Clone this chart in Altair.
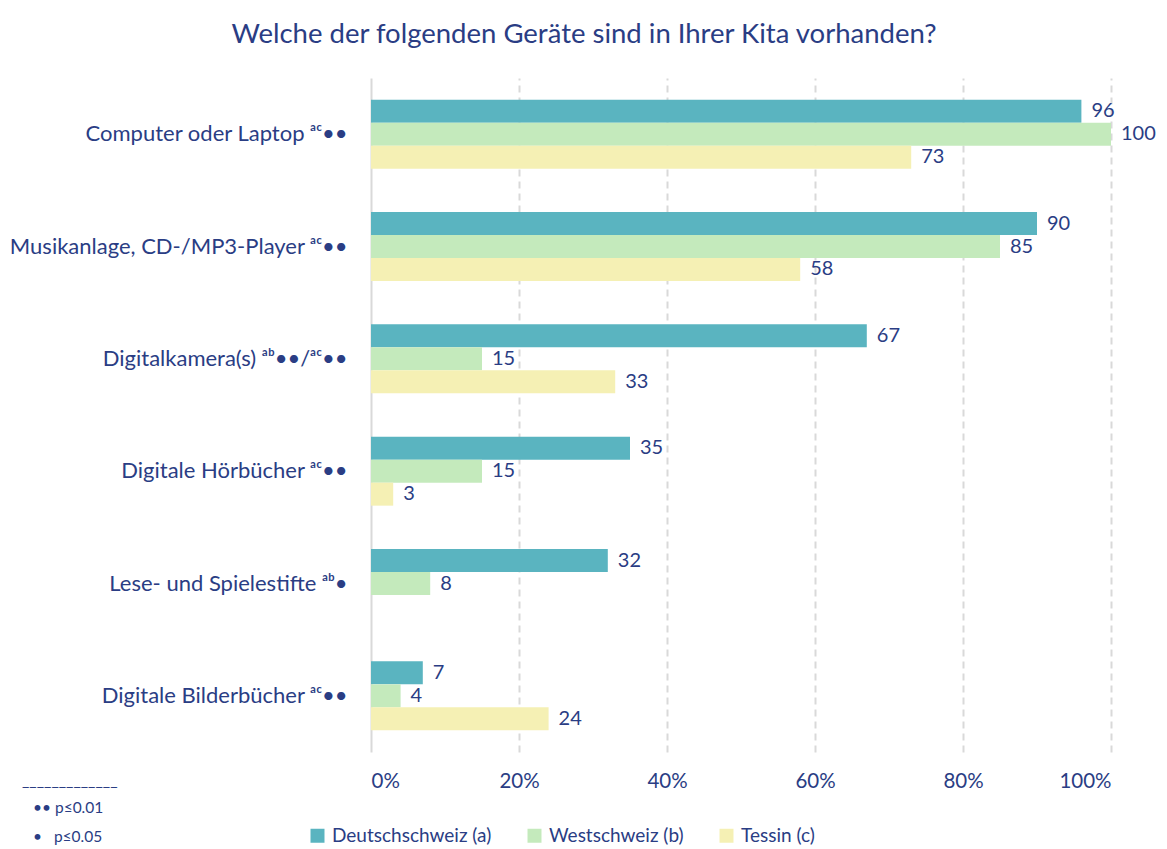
import altair as alt
import pandas as pd

categories = [
    "Computer oder Laptop ᵃᶜ••",
    "Musikanlage, CD-/MP3-Player ᵃᶜ••",
    "Digitalkamera(s) ᵃᵇ••/ᵃᶜ••",
    "Digitale Hörbücher ᵃᶜ••",
    "Lese- und Spielestifte ᵃᵇ•",
    "Digitale Bilderbücher ᵃᶜ••",
]
series = ["Deutschschweiz (a)", "Westschweiz (b)", "Tessin (c)"]
deutschschweiz = [96, 90, 67, 35, 32, 7]
westschweiz = [100, 85, 15, 15, 8, 4]
tessin = [73, 58, 33, 3, None, 24]
colors = ["#5ab4c0", "#c4eabc", "#f5f0b4"]
x_ticks = [0, 20, 40, 60, 80, 100]
footnotes = ["_____________", "•• p≤0.01", "•\u00a0\u00a0\u00a0p≤0.05"]
title_text = "Welche der folgenden Geräte sind in Ihrer Kita vorhanden?"

rows = []
for s, vals in zip(series, [deutschschweiz, westschweiz, tessin]):
    for c, v in zip(categories, vals):
        if v is not None:
            rows.append({"Gerät": c, "Region": s, "Wert": v})
df = pd.DataFrame(rows)

FONT = "Lato"
TXT = "#2a3d84"

y = alt.Y(
    "Gerät:N", sort=categories, title=None,
    scale=alt.Scale(paddingInner=0.386, paddingOuter=0.193),
    axis=alt.Axis(labelFontSize=22, labelColor=TXT, labelFont=FONT, labelPadding=24,
                  ticks=False, domain=False, labelLimit=400),
)
x = alt.X(
    "Wert:Q", title=None, scale=alt.Scale(domain=[0, 100], nice=False),
    axis=alt.Axis(values=x_ticks, labelExpr="datum.value + '%'", labelFontSize=20.5,
                  labelColor=TXT, labelFont=FONT, labelPadding=19, ticks=False, domain=False,
                  grid=True, gridColor="#d9d9d9", gridWidth=2,
                  gridDash=alt.condition("datum.value === 0", alt.value([]), alt.value([7, 5]))),
)
yoff = alt.YOffset("Region:N", sort=series, scale=alt.Scale(domain=series, paddingInner=0, paddingOuter=0))

base = alt.Chart(df)
bars = base.mark_bar().encode(
    x=x, y=y, yOffset=yoff,
    color=alt.Color(
        "Region:N", sort=series, scale=alt.Scale(domain=series, range=colors),
        legend=alt.Legend(title=None, orient="none", legendX=-63, legendY=748,
                          direction="horizontal", columns=3, symbolType="square",
                          symbolSize=196, symbolStrokeWidth=0, symbolOpacity=1,
                          labelFontSize=19, labelColor=TXT, labelFont=FONT,
                          columnPadding=33, labelOffset=5),
    ),
)
labels = base.mark_text(align="left", baseline="middle", dx=10, fontSize=20, color=TXT, font=FONT).encode(
    x="Wert:Q", y=alt.Y("Gerät:N", sort=categories), yOffset=yoff, text="Wert:Q"
)

fn_df = pd.DataFrame({"t": footnotes})
fn1 = alt.Chart(fn_df).transform_filter(alt.datum.t == footnotes[0]).mark_text(
    align="left", baseline="alphabetic", fontSize=16, color=TXT, font=FONT
).encode(text="t:N", x=alt.value(-349), y=alt.value(708))
fn2 = alt.Chart(fn_df).transform_filter(alt.datum.t == footnotes[1]).mark_text(
    align="left", baseline="middle", fontSize=15.5, color=TXT, font=FONT
).encode(text="t:N", x=alt.value(-338), y=alt.value(730))
fn3 = alt.Chart(fn_df).transform_filter(alt.datum.t == footnotes[2]).mark_text(
    align="left", baseline="middle", fontSize=15.5, color=TXT, font=FONT
).encode(text="t:N", x=alt.value(-338), y=alt.value(759))

chart = alt.layer(bars, labels, fn1, fn2, fn3).properties(
    width=740, height=674,
    padding={"left": 363, "top": 70, "right": 48, "bottom": 97},
    autosize=alt.AutoSizeParams(type="none"),
    title=alt.TitleParams(title_text, fontSize=27.5, color=TXT, font=FONT, fontWeight="normal",
                          anchor="middle", dx=-157, offset=30),
).configure_view(stroke=None)

chart.save("out.html", embed_options={"renderer": "svg", "actions": False})
